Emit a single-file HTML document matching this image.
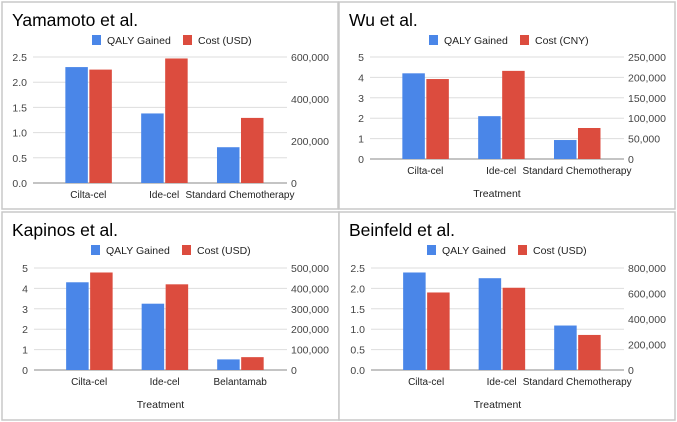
<!DOCTYPE html>
<html><head><meta charset="utf-8"><style>
body{margin:0;background:#fff;width:677px;height:422px;overflow:hidden}
svg{display:block;font-family:"Liberation Sans",Arial,sans-serif}
</style></head><body>
<svg id="c" width="677" height="422" viewBox="0 0 677 422"></svg>
<script>
// Yamamoto
const yamCategories = ["Cilta-cel","Ide-cel","Standard Chemotherapy"];
const yamQaly = [2.3, 1.38, 0.71];
const yamCost = [540000, 593000, 310000];
const yamLeftTicks = ["0.0","0.5","1.0","1.5","2.0","2.5"];
const yamRightTicks = ["0","200,000","400,000","600,000"];
// Wu
const wuCategories = ["Cilta-cel","Ide-cel","Standard Chemotherapy"];
const wuQaly = [4.2, 2.1, 0.93];
const wuCost = [196000, 216000, 76000];
const wuLeftTicks = ["0","1","2","3","4","5"];
const wuRightTicks = ["0","50,000","100,000","150,000","200,000","250,000"];
// Kapinos
const kapCategories = ["Cilta-cel","Ide-cel","Belantamab"];
const kapQaly = [4.3, 3.25, 0.52];
const kapCost = [478000, 420000, 63000];
const kapLeftTicks = ["0","1","2","3","4","5"];
const kapRightTicks = ["0","100,000","200,000","300,000","400,000","500,000"];
// Beinfeld
const beiCategories = ["Cilta-cel","Ide-cel","Standard Chemotherapy"];
const beiQaly = [2.39, 2.25, 1.09];
const beiCost = [608000, 645000, 275000];
const beiLeftTicks = ["0.0","0.5","1.0","1.5","2.0","2.5"];
const beiRightTicks = ["0","200,000","400,000","600,000","800,000"];

const NS="http://www.w3.org/2000/svg";
const svg=document.getElementById('c');
function mk(tag,attrs,parent,text){const e=document.createElementNS(NS,tag);for(const k in attrs)e.setAttribute(k,attrs[k]);if(text!==undefined)e.textContent=text;(parent||svg).appendChild(e);return e;}

function panel(o){
  const g=mk('g',{});
  
  
  const bx=mk('rect',{x:o.px,y:o.py,width:o.pw,height:o.ph,fill:'#fff',stroke:'#c8c8c8','stroke-width':1.5},g);
  
  
  const t=mk('text',{x:o.px+10,y:o.py+24,'font-size':17.5,fill:'#000'},g,o.title);
  
  
  const ly=o.py+38;
  const lb=mk('rect',{x:o.lx,y:ly-5,width:9,height:10,fill:'#4a86e8'},g);
  
  
  const lt=mk('text',{x:o.lx+15,y:ly+4,'font-size':10.5,fill:'#222'},g,'QALY Gained');
  
  
  const lr=mk('rect',{x:o.lx+91,y:ly-5,width:9,height:10,fill:'#dc4c3e'},g);
  
  
  const lt2=mk('text',{x:o.lx+106,y:ly+4,'font-size':10.5,fill:'#222'},g,o.costLabel);
  
  
  const y0=o.y0, y1=o.y1;
  const yL=v=>y0-(v/o.lmax)*(y0-y1);
  const yR=v=>y0-(v/o.rmax)*(y0-y1);
  const n=o.leftTicks.length;
  o.leftTicks.forEach((lab,i)=>{
    const v=o.lmax*i/(n-1), y=yL(v);
    const gl=mk('line',{x1:o.x0,x2:o.x1,y1:y,y2:y,stroke:i===0?'#888':'#ddd','stroke-width':1},g);
    
    
    const tl=mk('text',{x:o.x0-6,y:y+4,'font-size':10.5,fill:'#444','text-anchor':'end'},g,lab);
    
    
  });
  const m=o.rightTicks.length;
  o.rightTicks.forEach((lab,i)=>{
    const y=yR(o.rmax*i/(m-1));
    const tr=mk('text',{x:o.x1+4,y:y+4,'font-size':10.5,fill:'#444'},g,lab);
    
    
  });
  const step=(o.x1-o.x0)/3.35;
  o.cats.forEach((c,i)=>{
    const cx=o.x0+step*(0.73+i);
    const hb=yL(o.qaly[i]);
    const b=mk('rect',{x:cx-23,y:hb,width:22.5,height:y0-hb,fill:'#4a86e8'},g);
    
    
    const hr=yR(o.cost[i]);
    const r=mk('rect',{x:cx+1,y:hr,width:22.5,height:y0-hr,fill:'#dc4c3e'},g);
    
    
    const cl=mk('text',{x:cx,y:y0+15,'font-size':10,fill:'#222','text-anchor':'middle'},g,c);
    
    
  });
  if(o.xtitle){
    const xt=mk('text',{x:(o.x0+o.x1)/2,y:o.y0+38,'font-size':10.5,fill:'#222','text-anchor':'middle'},g,'Treatment');
    
    
  }
}
panel({name:'yamamoto-chart',title:'Yamamoto et al.',costLabel:'Cost (USD)',px:2,py:2,pw:336,ph:207,lx:92,x0:33,x1:287,y0:183,y1:57,lmax:2.5,rmax:600000,leftTicks:yamLeftTicks,rightTicks:yamRightTicks,cats:yamCategories,qaly:yamQaly,cost:yamCost,xtitle:false});
panel({name:'wu-chart',title:'Wu et al.',costLabel:'Cost (CNY)',px:339,py:2,pw:336,ph:207,lx:429,x0:370,x1:624,y0:159,y1:57,lmax:5,rmax:250000,leftTicks:wuLeftTicks,rightTicks:wuRightTicks,cats:wuCategories,qaly:wuQaly,cost:wuCost,xtitle:true});
panel({name:'kapinos-chart',title:'Kapinos et al.',costLabel:'Cost (USD)',px:2,py:212,pw:337,ph:208,lx:91,x0:34,x1:287,y0:370,y1:268,lmax:5,rmax:500000,leftTicks:kapLeftTicks,rightTicks:kapRightTicks,cats:kapCategories,qaly:kapQaly,cost:kapCost,xtitle:true});
panel({name:'beinfeld-chart',title:'Beinfeld et al.',costLabel:'Cost (USD)',px:339,py:212,pw:336,ph:208,lx:427,x0:371,x1:624,y0:370,y1:268,lmax:2.5,rmax:800000,leftTicks:beiLeftTicks,rightTicks:beiRightTicks,cats:beiCategories,qaly:beiQaly,cost:beiCost,xtitle:true});
</script>
</body></html>
